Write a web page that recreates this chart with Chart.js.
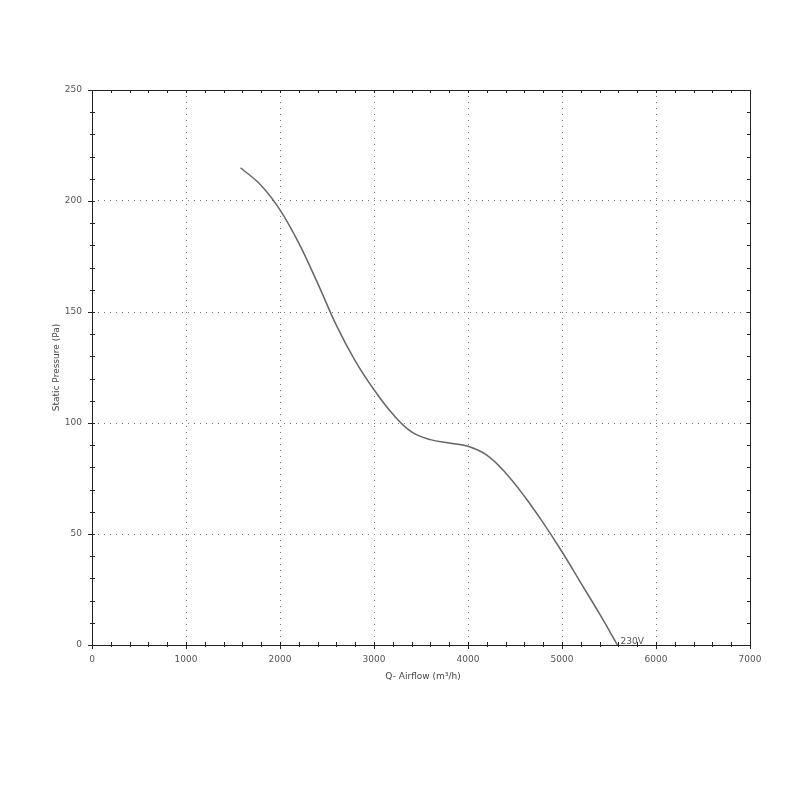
<!DOCTYPE html>
<html>
<head>
<meta charset="utf-8">
<script src="https://cdn.jsdelivr.net/npm/chart.js@4.4.1/dist/chart.umd.min.js"></script>
<style>
  html, body { margin: 0; padding: 0; background: #fff; }
  #wrap { width: 800px; height: 800px; }
</style>
</head>
<body>
<div id="wrap"><canvas id="fanChart" width="800" height="800"></canvas></div>
<script>
// airflow (m3/h) and static pressure (Pa)
var airflow = [1580, 1800, 2000, 2200, 2400, 2600, 2800, 3000, 3200, 3400, 3600, 3800, 4000, 4200, 4400, 4600, 4800, 5000, 5200, 5400, 5590];
var pressure = [215, 207, 196, 181, 163, 144, 128, 115, 104, 96, 92.5, 91, 89.5, 85.5, 77.5, 67, 55, 42, 28, 14, 0];
var curveLabel = "230V";
var xTicks = [0, 1000, 2000, 3000, 4000, 5000, 6000, 7000];
var yTicks = [0, 50, 100, 150, 200, 250];
var xTitle = "Q- Airflow (m³/h)";
var yTitle = "Static Pressure (Pa)";

var points = airflow.map(function(q, i) { return { x: q, y: pressure[i] }; });

// frame, minor ticks, axis titles and the curve label
var framePlugin = {
  id: 'frame',
  afterDraw: function(chart) {
    var ctx = chart.ctx, a = chart.chartArea;
    var xs = chart.scales.x, ys = chart.scales.y;
    ctx.save();
    ctx.strokeStyle = '#222';
    ctx.lineWidth = 1;
    ctx.strokeRect(Math.round(a.left) + 0.5, Math.round(a.top) + 0.5, Math.round(a.right - a.left), Math.round(a.bottom - a.top));
    ctx.beginPath();
    for (var v = 0; v <= 7000; v += 200) {
      var px = Math.round(xs.getPixelForValue(v)) + 0.5;
      var major = v % 1000 === 0;
      ctx.moveTo(px, a.bottom - 3); ctx.lineTo(px, a.bottom + (major ? 4 : 2));
      ctx.moveTo(px, a.top); ctx.lineTo(px, a.top + 3);
    }
    for (var p = 0; p <= 250; p += 10) {
      var py = Math.round(ys.getPixelForValue(p)) + 0.5;
      var maj = p % 50 === 0;
      ctx.moveTo(a.left - (maj ? 4 : 2), py); ctx.lineTo(a.left + 3, py);
      ctx.moveTo(a.right - 3, py); ctx.lineTo(a.right, py);
    }
    ctx.stroke();

    ctx.fillStyle = '#444';
    ctx.font = '9px "DejaVu Sans", sans-serif';
    ctx.textAlign = 'center';
    ctx.textBaseline = 'middle';
    ctx.fillText(xTitle, (a.left + a.right) / 2 + 2, 677);
    ctx.save();
    ctx.translate(57, (a.top + a.bottom) / 2);
    ctx.rotate(-Math.PI / 2);
    ctx.fillText(yTitle, 0, 0);
    ctx.restore();

    var last = points[points.length - 1];
    ctx.fillStyle = '#555';
    ctx.textAlign = 'left';
    ctx.textBaseline = 'bottom';
    ctx.fillText(curveLabel, xs.getPixelForValue(last.x) + 3, ys.getPixelForValue(last.y) + 1);
    ctx.restore();
  }
};

var ctx = document.getElementById('fanChart').getContext('2d');
var myChart = new Chart(ctx, {
  type: 'scatter',
  data: {
    datasets: [{
      label: curveLabel,
      data: points,
      showLine: true,
      borderColor: '#666',
      borderWidth: 1.5,
      pointRadius: 0,
      tension: 0.4,
      fill: false
    }]
  },
  options: {
    responsive: false,
    animation: false,
    layout: { padding: { top: 90, right: 50, left: 0, bottom: 0 } },
    plugins: {
      legend: { display: false },
      tooltip: { enabled: false }
    },
    scales: {
      x: {
        type: 'linear',
        min: 0, max: 7000,
        afterBuildTicks: function(s) { s.ticks = xTicks.map(function(v) { return { value: v }; }); },
        afterFit: function(s) { s.height = 155; },
        ticks: {
          color: '#555', font: { family: 'DejaVu Sans', size: 9 }, padding: 9, maxRotation: 0,
          callback: function(v) { return String(v); }
        },
        grid: { color: '#777', drawTicks: false, tickLength: 0 },
        border: { display: false, dash: [1, 5] }
      },
      y: {
        type: 'linear',
        min: 0, max: 250,
        afterBuildTicks: function(s) { s.ticks = yTicks.map(function(v) { return { value: v }; }); },
        afterFit: function(s) { s.width = 92; },
        ticks: {
          color: '#555', font: { family: 'DejaVu Sans', size: 9 }, padding: 10,
          callback: function(v) { return String(v); }
        },
        grid: { color: '#777', drawTicks: false, tickLength: 0 },
        border: { display: false, dash: [1, 5] }
      }
    }
  },
  plugins: [framePlugin]
});
</script>
</body>
</html>
